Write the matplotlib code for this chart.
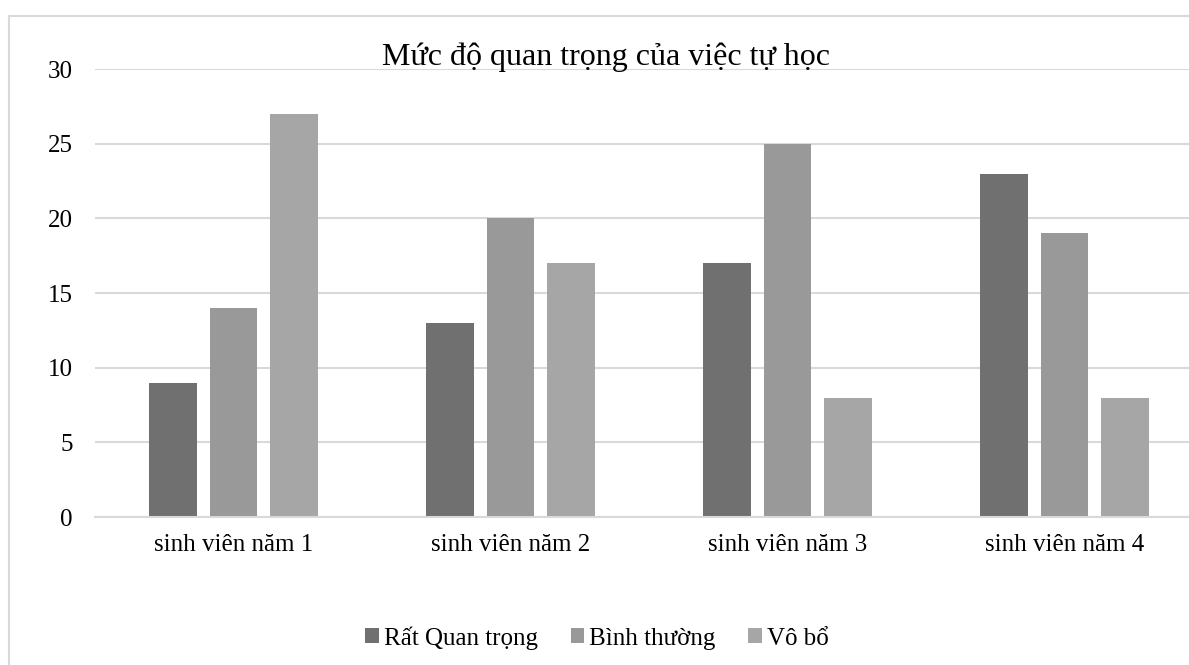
import matplotlib.pyplot as plt
import numpy as np
from matplotlib.patches import Rectangle

plt.rcParams['font.family'] = ['Liberation Serif', 'DejaVu Serif']

categories = ["sinh viên năm 1", "sinh viên năm 2", "sinh viên năm 3", "sinh viên năm 4"]
series_names = ["Rất Quan trọng", "Bình thường", "Vô bổ"]
rat_quan_trong = [9, 13, 17, 23]
binh_thuong = [14, 20, 25, 19]
vo_bo = [27, 17, 8, 8]
colors = ["#707070", "#999999", "#a6a6a6"]

W, H = 1189, 665
fig = plt.figure(figsize=(W / 100, H / 100), dpi=100)

# chart frame (the right and bottom edges run off the image)
fig.patches.append(Rectangle((9 / W, -0.1), 1.2, 1 - 16 / H + 0.1, transform=fig.transFigure,
                             fill=False, edgecolor="#d9d9d9", linewidth=1.5))

ax = fig.add_axes([95 / W, (H - 517) / H, (1203 - 95) / W, (517 - 69) / H])
x = np.arange(len(categories))
width = 0.173
offset = 0.22
for i, (vals, name) in enumerate(zip([rat_quan_trong, binh_thuong, vo_bo], series_names)):
    ax.bar(x + (i - 1) * offset, vals, width, color=colors[i], label=name, zorder=3)

ax.set_xlim(-0.5, 3.5)
ax.set_ylim(0, 30)
ax.set_yticks(range(0, 31, 5))
ax.set_xticks(x)
ax.set_xticklabels(categories)
ax.tick_params(length=0, labelsize=18, pad=12)
ax.tick_params(axis="y", pad=16)
ax.grid(axis="y", color="#d9d9d9", linewidth=1.5, zorder=0)
for s in ["top", "right", "left"]:
    ax.spines[s].set_visible(False)
ax.spines["bottom"].set_color("#d9d9d9")
ax.spines["bottom"].set_linewidth(1.5)
ax.spines["bottom"].set_zorder(4)

fig.text(606 / W, 1 - 57 / H, "Mức độ quan trọng của việc tự học", ha="center", va="center",
         fontsize=23)

handles, labels = ax.get_legend_handles_labels()
fig.legend(handles, labels, loc="center", bbox_to_anchor=(597 / W, 1 - 638 / H), ncol=3,
           frameon=False, fontsize=18, handlelength=0.55, handleheight=0.55,
           handletextpad=0.2, columnspacing=1.3)

fig.savefig("out.png", dpi=100, facecolor="white")
